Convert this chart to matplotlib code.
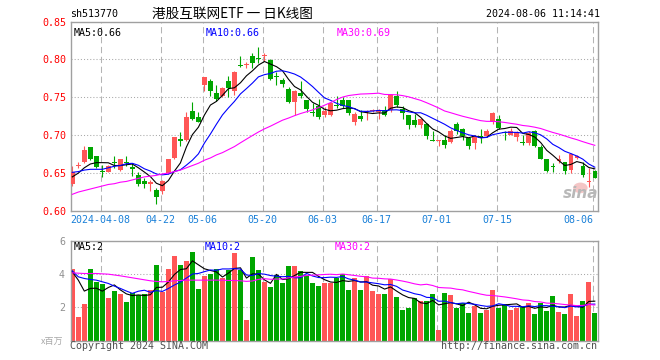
import numpy as np
import pandas as pd
import matplotlib
matplotlib.use('Agg')
import matplotlib.pyplot as plt
from matplotlib.patches import Ellipse

# ---------------- data ----------------
dates = ["03-28", "03-29", "04-01", "04-02", "04-03", "04-08", "04-09", "04-10", "04-11", "04-12",
         "04-15", "04-16", "04-17", "04-18", "04-19", "04-22", "04-23", "04-24", "04-25", "04-26",
         "04-29", "04-30", "05-06", "05-07", "05-08", "05-09", "05-10", "05-13", "05-14", "05-15",
         "05-16", "05-17", "05-20", "05-21", "05-22", "05-23", "05-24", "05-27", "05-28", "05-29",
         "05-30", "05-31", "06-03", "06-04", "06-05", "06-06", "06-07", "06-11", "06-12", "06-13",
         "06-14", "06-17", "06-18", "06-19", "06-20", "06-21", "06-24", "06-25", "06-26", "06-27",
         "06-28", "07-01", "07-02", "07-03", "07-04", "07-05", "07-08", "07-09", "07-10", "07-11",
         "07-12", "07-15", "07-16", "07-17", "07-18", "07-19", "07-22", "07-23", "07-24", "07-25",
         "07-26", "07-29", "07-30", "07-31", "08-01", "08-02", "08-05", "08-06"]

opens = [0.636, 0.660, 0.665, 0.684, 0.672, 0.653, 0.652, 0.665, 0.654, 0.665,
         0.658, 0.648, 0.639, 0.636, 0.628, 0.627, 0.650, 0.670, 0.695, 0.694,
         0.732, 0.724, 0.766, 0.772, 0.756, 0.752, 0.772, 0.758, 0.793, 0.793,
         0.804, 0.801, 0.805, 0.799, 0.778, 0.773, 0.761, 0.744, 0.756, 0.746,
         0.731, 0.738, 0.727, 0.727, 0.740, 0.747, 0.746, 0.718, 0.725, 0.730,
         0.732, 0.731, 0.733, 0.733, 0.752, 0.735, 0.727, 0.720, 0.714, 0.715,
         0.694, 0.692, 0.694, 0.691, 0.715, 0.708, 0.696, 0.690, 0.699, 0.699,
         0.717, 0.722, 0.704, 0.700, 0.697, 0.691, 0.690, 0.705, 0.685, 0.668,
         0.659, 0.666, 0.665, 0.654, 0.670, 0.660, 0.638, 0.653]
highs = [0.659, 0.664, 0.686, 0.685, 0.673, 0.661, 0.661, 0.673, 0.669, 0.673,
         0.663, 0.651, 0.643, 0.641, 0.630, 0.641, 0.669, 0.698, 0.704, 0.731,
         0.744, 0.730, 0.777, 0.774, 0.766, 0.764, 0.778, 0.785, 0.804, 0.796,
         0.809, 0.817, 0.809, 0.801, 0.784, 0.776, 0.763, 0.759, 0.771, 0.747,
         0.742, 0.748, 0.737, 0.744, 0.752, 0.750, 0.747, 0.731, 0.733, 0.733,
         0.734, 0.735, 0.739, 0.755, 0.758, 0.738, 0.727, 0.728, 0.722, 0.716,
         0.706, 0.694, 0.700, 0.708, 0.718, 0.709, 0.697, 0.700, 0.708, 0.708,
         0.730, 0.727, 0.706, 0.709, 0.706, 0.700, 0.705, 0.707, 0.687, 0.668,
         0.663, 0.674, 0.665, 0.677, 0.674, 0.665, 0.657, 0.654]
lows = [0.633, 0.657, 0.663, 0.667, 0.657, 0.645, 0.651, 0.657, 0.653, 0.660,
        0.646, 0.633, 0.630, 0.627, 0.609, 0.623, 0.649, 0.668, 0.686, 0.693,
        0.720, 0.717, 0.758, 0.752, 0.745, 0.751, 0.751, 0.753, 0.790, 0.788,
        0.788, 0.795, 0.798, 0.773, 0.766, 0.763, 0.742, 0.727, 0.749, 0.731,
        0.725, 0.722, 0.724, 0.725, 0.736, 0.736, 0.727, 0.714, 0.719, 0.720,
        0.730, 0.722, 0.725, 0.731, 0.737, 0.721, 0.708, 0.711, 0.710, 0.695,
        0.692, 0.686, 0.683, 0.690, 0.702, 0.694, 0.682, 0.682, 0.690, 0.698,
        0.715, 0.708, 0.694, 0.700, 0.692, 0.687, 0.687, 0.684, 0.668, 0.652,
        0.651, 0.663, 0.649, 0.650, 0.668, 0.645, 0.632, 0.643]
closes = [0.651, 0.661, 0.681, 0.668, 0.658, 0.651, 0.660, 0.663, 0.668, 0.663,
          0.656, 0.635, 0.635, 0.638, 0.619, 0.640, 0.669, 0.697, 0.692, 0.724,
          0.722, 0.718, 0.777, 0.758, 0.748, 0.762, 0.762, 0.783, 0.791, 0.794,
          0.795, 0.800, 0.806, 0.774, 0.777, 0.768, 0.744, 0.758, 0.752, 0.734,
          0.729, 0.724, 0.732, 0.742, 0.738, 0.739, 0.729, 0.728, 0.721, 0.732,
          0.733, 0.733, 0.727, 0.753, 0.740, 0.729, 0.713, 0.714, 0.722, 0.699,
          0.693, 0.694, 0.687, 0.706, 0.705, 0.699, 0.686, 0.699, 0.696, 0.706,
          0.729, 0.710, 0.703, 0.705, 0.704, 0.690, 0.703, 0.686, 0.668, 0.653,
          0.658, 0.668, 0.653, 0.675, 0.672, 0.648, 0.639, 0.644]
volumes = [4.30, 1.44, 2.20, 4.30, 3.54, 3.40, 2.54, 2.98, 2.80, 2.34,
           2.88, 2.74, 2.80, 3.04, 4.54, 2.94, 4.30, 5.08, 4.54, 4.78,
           5.32, 3.10, 3.88, 4.04, 4.34, 3.78, 4.28, 5.28, 4.24, 1.24,
           5.04, 4.24, 3.52, 3.20, 3.94, 3.48, 4.48, 4.48, 4.18, 3.92,
           3.48, 3.28, 3.48, 3.48, 3.78, 4.04, 3.04, 3.74, 3.04, 3.88,
           2.98, 2.80, 2.80, 3.68, 2.64, 1.84, 1.98, 2.54, 2.38, 2.38,
           2.80, 0.64, 2.88, 2.74, 1.98, 2.28, 1.68, 2.08, 1.68, 1.84,
           3.04, 1.98, 2.20, 1.84, 1.98, 2.00, 2.28, 1.60, 2.28, 1.80,
           2.68, 1.74, 1.60, 2.80, 1.48, 2.38, 3.52, 1.68]

# moving-average values before the window starts
ma5_head = [0.645, 0.650, 0.657, 0.662]
ma10_head = [0.651, 0.652, 0.654, 0.655, 0.655, 0.655, 0.657, 0.659, 0.660]
ma30_head = [0.622, 0.625, 0.627, 0.629, 0.631, 0.633, 0.635, 0.636, 0.638, 0.639,
             0.641, 0.643, 0.645, 0.646, 0.647, 0.649, 0.650, 0.652, 0.654, 0.657,
             0.660, 0.663, 0.667, 0.670, 0.674, 0.677, 0.681, 0.685, 0.690]
vma5_head = [4.14, 3.64, 2.98, 3.14]
vma10_head = [4.20, 3.84, 3.74, 3.68, 3.64, 3.54, 3.44, 3.28, 3.14]
vma30_head = [4.08, 4.06, 4.04, 4.04, 4.04, 4.02, 4.00, 3.95, 3.90, 3.84,
              3.78, 3.72, 3.66, 3.60, 3.56, 3.54, 3.56, 3.60, 3.62, 3.64,
              3.64, 3.64, 3.64, 3.64, 3.64, 3.64, 3.62, 3.62, 3.60]

label_dates = ["04-08", "04-22", "05-06", "05-20", "06-03", "06-17", "07-01", "07-15", "08-06"]
label_texts = ["2024-04-08", "04-22", "05-06", "05-20", "06-03", "06-17", "07-01", "07-15", "08-06"]
price_ticks = [0.60, 0.65, 0.70, 0.75, 0.80, 0.85]
vol_ticks = [2, 4, 6]

title_code = "sh513770"
title_name = "港股互联网ETF 一 日K线图"
timestamp = "2024-08-06 11:14:41"
price_ma_labels = ["MA5:0.66", "MA10:0.66", "MA30:0.69"]
vol_ma_labels = ["MA5:2", "MA10:2", "MA30:2"]

# ---------------- derived ----------------
n = len(closes)
x = np.arange(n)
o = np.array(opens); h = np.array(highs); l = np.array(lows); c = np.array(closes)
v = np.array(volumes)

def ma(series, w, head):
    s = pd.Series(series).rolling(w).mean().to_numpy()
    s[:w - 1] = head
    return s

ma5 = ma(c, 5, ma5_head); ma10 = ma(c, 10, ma10_head); ma30 = ma(c, 30, ma30_head)
vma5 = ma(v, 5, vma5_head); vma10 = ma(v, 10, vma10_head); vma30 = ma(v, 30, vma30_head)

RED = '#ff5656'
GREEN = '#00a600'
up = c >= o
cols = np.where(up, RED, GREEN)

# ---------------- figure ----------------
W, H = 660, 360
fig = plt.figure(figsize=(6.6, 3.6), dpi=100)
fig.patch.set_facecolor('white')

def fx(px): return px / W
def fy(py): return 1 - py / H

L, R = 70.5, 597.5
PT, PB = 21.5, 211.0
VT, VB = 241.0, 340.5
axp = fig.add_axes([fx(L), fy(PB), (R - L) / W, (PB - PT) / H])
axv = fig.add_axes([fx(L), fy(VB), (R - L) / W, (VB - VT) / H])

MONO = 'DejaVu Sans Mono'
FS = 7.2
GRID = '#b4b4b4'
grid_x = [dates.index(d) - 0.3 for d in label_dates]

for ax in (axp, axv):
    ax.set_xlim(-0.3, 87.45)
    for s in ax.spines.values():
        s.set_color('#a0a0a0'); s.set_linewidth(1.0)
    for gx in grid_x:
        ax.axvline(gx, color=GRID, lw=0.75, dashes=(6, 3.5), zorder=0)

# price panel
axp.set_ylim(0.60, 0.85)
for gy in [0.65, 0.70, 0.75, 0.80]:
    axp.axhline(gy, color='#a8a8a8', lw=0.75, dashes=(1, 2), zorder=0)
axp.vlines(x, l, h, colors=cols, lw=0.8, zorder=2)
body_h = np.maximum(np.abs(c - o), 0.0013)
axp.bar(x, body_h, bottom=np.minimum(o, c), width=0.75, color=cols, lw=0, zorder=3)
axp.plot(x, ma5, color='black', lw=0.8, zorder=4)
axp.plot(x, ma10, color='#0000ff', lw=0.8, zorder=4)
axp.plot(x, ma30, color='#ff00ff', lw=0.8, zorder=4)

axp.set_yticks(price_ticks)
axp.set_yticklabels([f"{t:.2f}" for t in price_ticks])
axp.tick_params(axis='y', length=0, pad=3.2, labelsize=FS, labelcolor='#ff0000')
axp.set_xticks(grid_x)
axp.set_xticklabels(label_texts)
axp.tick_params(axis='x', length=0, pad=3.0, labelsize=FS, labelcolor='#1a80d8')
for t in axp.get_yticklabels() + axp.get_xticklabels():
    t.set_fontfamily(MONO)
xtl = axp.get_xticklabels()
xtl[-1].set_horizontalalignment('right')

# sina watermark
axp.add_patch(Ellipse((84.6, 0.6305), 2.4, 0.014, facecolor='#f2b8b8', edgecolor='none', alpha=0.8, zorder=1))
axp.text(84.6, 0.6225, 'sina', ha='center', va='center', fontsize=11, fontweight='bold', style='italic',
         color='#b8b8b8', zorder=1, family='DejaVu Sans')

# volume panel
axv.set_ylim(0, 6)
for gy in [2, 4]:
    axv.axhline(gy, color='#a8a8a8', lw=0.75, dashes=(1, 2), zorder=0)
axv.bar(x, v, width=0.83, color=cols, lw=0, zorder=2)
axv.plot(x, vma5, color='black', lw=0.8, zorder=4)
axv.plot(x, vma10, color='#0000ff', lw=0.8, zorder=4)
axv.plot(x, vma30, color='#ff00ff', lw=0.8, zorder=4)
axv.set_yticks(vol_ticks)
axv.set_yticklabels([str(t) for t in vol_ticks])
axv.tick_params(axis='y', length=0, pad=4.0, labelsize=FS, labelcolor='#909090')
axv.set_xticks([])
for t in axv.get_yticklabels():
    t.set_fontfamily(MONO)

# texts
fig.text(fx(70), fy(14), title_code, ha='left', va='center', family=MONO, fontsize=FS, color='black')
fig.text(fx(152), fy(14), title_name, ha='left', va='center', family=['Noto Sans CJK SC', 'DejaVu Sans'],
         fontsize=9.8, color='black')
fig.text(fx(600), fy(14), timestamp, ha='right', va='center', family=MONO, fontsize=FS, color='black')

ma_cols = ['black', '#0000ff', '#ff00ff']
for txt, px, col in zip(price_ma_labels, [74, 206, 337], ma_cols):
    fig.text(fx(px), fy(33), txt, ha='left', va='center', family=MONO, fontsize=FS, color=col)
for txt, px, col in zip(vol_ma_labels, [74, 205, 335], ma_cols):
    fig.text(fx(px), fy(247), txt, ha='left', va='center', family=MONO, fontsize=FS, color=col)

fig.text(fx(63), fy(341), "x百万", ha='right', va='center', family=['Noto Sans CJK SC', 'DejaVu Sans'],
         fontsize=6.5, color='#a8a8a8')
fig.text(fx(70), fy(346), "Copyright 2024 SINA.COM", ha='left', va='center', family=MONO, fontsize=FS,
         color='#505050')
fig.text(fx(597), fy(346), "http://finance.sina.com.cn", ha='right', va='center', family=MONO, fontsize=FS,
         color='#505050')

fig.savefig('out.png', dpi=100, facecolor='white')
